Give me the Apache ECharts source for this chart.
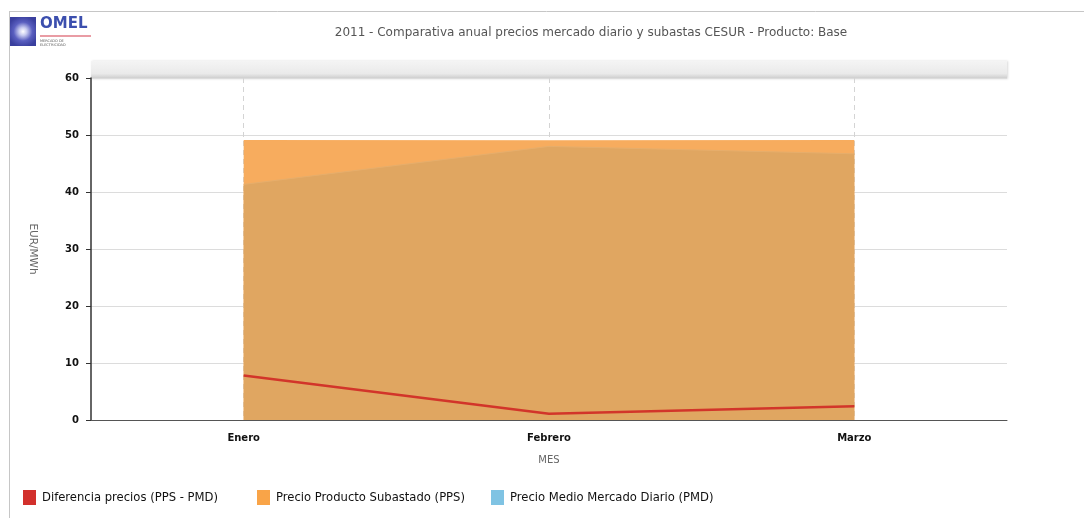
<!DOCTYPE html>
<html>
<head>
<meta charset="utf-8">
<title>2011 - Comparativa anual precios mercado diario y subastas CESUR</title>
<script src="https://cdn.jsdelivr.net/npm/echarts@6/dist/echarts.min.js"></script>
<style>
  html, body { margin: 0; padding: 0; background: #ffffff; }
  #chart { width: 1084px; height: 518px; }
</style>
</head>
<body>
<div id="chart"></div>
<script>
// Months of the 2011 comparison
const months = ['Enero', 'Febrero', 'Marzo'];

// EUR/MWh
const ppsValues = [49.12, 49.10, 49.13];   // Precio Producto Subastado (PPS)
const pmdValues = [41.33, 48.00, 46.70];   // Precio Medio Mercado Diario (PMD)
const diffValues = [7.79, 1.10, 2.43];     // Diferencia precios (PPS - PMD)

const yTicks = [0, 10, 20, 30, 40, 50, 60];

const seriesNames = [
  'Diferencia precios (PPS - PMD)',
  'Precio Producto Subastado (PPS)',
  'Precio Medio Mercado Diario (PMD)'
];
const seriesColors = ['#d2302c', '#f9a448', '#7fc3e3'];

const FONT = 'DejaVu Sans, Verdana, sans-serif';

// one legend block per series so each entry keeps its own column
const legendLefts = [23, 257, 491];
const legends = seriesNames.map((name, i) => ({
  top: 490,
  left: legendLefts[i],
  padding: 0,
  itemWidth: 13,
  itemHeight: 15,
  itemGap: 0,
  icon: 'rect',
  selectedMode: false,
  textStyle: { fontFamily: FONT, fontSize: 11.6, color: '#111111', padding: [0, 0, 0, 1] },
  data: [{ name: name, itemStyle: { color: seriesColors[i] } }]
}));

const chart = echarts.init(document.getElementById('chart'), null, { renderer: 'canvas' });

chart.setOption({
  animation: false,
  backgroundColor: '#ffffff',
  title: {
    text: '2011 - Comparativa anual precios mercado diario y subastas CESUR - Producto: Base',
    left: 586,
    top: 22,
    textAlign: 'center',
    textStyle: { fontFamily: FONT, fontSize: 12, fontWeight: 'normal', color: '#555555' }
  },
  legend: legends,
  grid: { left: 91, right: 77, top: 78, bottom: 98, containLabel: false },
  xAxis: {
    type: 'category',
    data: months,
    boundaryGap: true,
    name: 'MES',
    nameLocation: 'middle',
    nameGap: 35,
    nameTextStyle: { fontFamily: FONT, fontSize: 10, color: '#666666' },
    axisLine: { lineStyle: { color: '#555555', width: 1 } },
    axisTick: { alignWithLabel: true, length: 5, lineStyle: { color: '#555555' } },
    axisLabel: { fontFamily: FONT, fontSize: 10, fontWeight: 'bold', color: '#111111', margin: 13 },
    splitLine: { show: true, alignWithLabel: true, lineStyle: { color: '#d4d4d4', type: [5, 4], width: 1 } }
  },
  yAxis: {
    type: 'value',
    min: 0,
    max: 60,
    interval: 10,
    name: 'EUR/MWh',
    nameLocation: 'middle',
    nameRotate: -90,
    nameGap: 53,
    nameTextStyle: { fontFamily: FONT, fontSize: 10.5, color: '#666666' },
    axisLine: { show: true, lineStyle: { color: '#333333', width: 1.5 } },
    axisTick: { show: true, length: 5, lineStyle: { color: '#333333' } },
    axisLabel: {
      fontFamily: FONT, fontSize: 10, fontWeight: 'bold', color: '#111111', margin: 12,
      formatter: v => (yTicks.indexOf(v) >= 0 ? String(v) : '')
    },
    splitLine: { show: true, lineStyle: { color: '#dcdcdc', width: 1.2 } }
  },
  series: [
    {
      name: seriesNames[1],
      type: 'line',
      data: ppsValues,
      z: 2,
      symbol: 'none',
      color: seriesColors[1],
      lineStyle: { width: 0 },
      areaStyle: { color: '#f7ac5e', opacity: 1 }
    },
    {
      name: seriesNames[2],
      type: 'line',
      data: pmdValues,
      z: 3,
      symbol: 'none',
      color: seriesColors[2],
      lineStyle: { width: 1, color: '#e6ae6c' },
      areaStyle: { color: '#e0a661', opacity: 1 }
    },
    {
      name: seriesNames[0],
      type: 'line',
      data: diffValues,
      z: 4,
      symbol: 'none',
      color: seriesColors[0],
      lineStyle: { width: 2.5, color: '#d2352a' }
    }
  ],
  graphic: [
    // outer frame
    { type: 'line', shape: { x1: 9, y1: 11.5, x2: 1084, y2: 11.5 }, style: { stroke: '#c6c6c6', lineWidth: 1 }, silent: true },
    { type: 'line', shape: { x1: 9.5, y1: 11, x2: 9.5, y2: 518 }, style: { stroke: '#c6c6c6', lineWidth: 1 }, silent: true },
    // header band above the plot
    {
      type: 'rect', shape: { x: 91, y: 61, width: 916, height: 18 }, silent: true,
      style: {
        fill: new echarts.graphic.LinearGradient(0, 0, 0, 1, [
          { offset: 0, color: '#f4f4f4' },
          { offset: 0.7, color: '#eaeaea' },
          { offset: 1, color: '#c9c9c9' }
        ]),
        shadowColor: 'rgba(0,0,0,0.15)', shadowBlur: 2, shadowOffsetX: 1
      }
    },
    // OMEL logo
    {
      type: 'rect', shape: { x: 10, y: 17, width: 26, height: 29 }, silent: true,
      style: {
        fill: new echarts.graphic.RadialGradient(0.5, 0.5, 0.6, [
          { offset: 0, color: '#ffffff' },
          { offset: 0.25, color: '#c8cbf0' },
          { offset: 0.6, color: '#5a5fc0' },
          { offset: 1, color: '#3a3f9e' }
        ])
      }
    },
    {
      type: 'text', x: 40, y: 17, silent: true,
      style: { text: 'OMEL', fontFamily: 'DejaVu Sans, sans-serif', fontSize: 15, fontWeight: 'bold', fill: '#3c4fae' }
    },
    { type: 'line', shape: { x1: 40, y1: 36, x2: 91, y2: 36 }, style: { stroke: '#d33a4a', lineWidth: 1.2 }, silent: true },
    {
      type: 'text', x: 40, y: 39, silent: true,
      style: { text: 'MERCADO DE\nELECTRICIDAD', fontFamily: 'DejaVu Sans, sans-serif', fontSize: 3.5, lineHeight: 4, fill: '#555555' }
    }
  ]
});
</script>
</body>
</html>
